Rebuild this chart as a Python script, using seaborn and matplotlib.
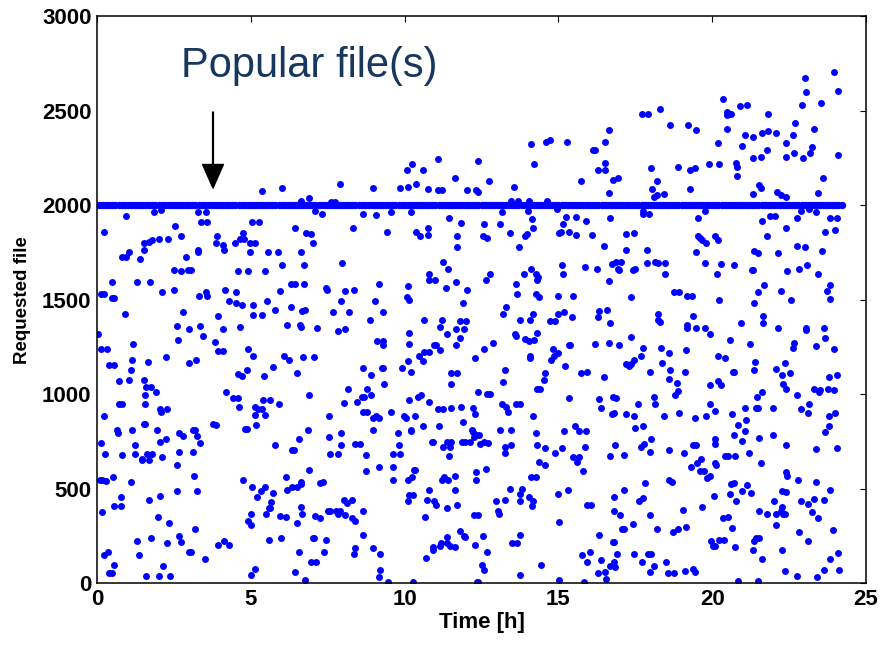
import pandas as pd
import matplotlib
matplotlib.use('Agg')
import matplotlib.pyplot as plt
import seaborn as sns

sns.set_style('white')
plt.rcParams['font.family'] = ['Liberation Sans', 'DejaVu Sans']
plt.rcParams['text.color'] = 'black'
plt.rcParams['axes.labelcolor'] = 'black'
plt.rcParams['xtick.color'] = 'black'
plt.rcParams['ytick.color'] = 'black'

# requests for the popular file (one every ~0.1 h, all at file 2000)
popular_file = 2000
popular_times = [
    0.0, 0.1, 0.2, 0.3, 0.4, 0.5, 0.6, 0.7, 0.8, 0.9,
    1.0, 1.1, 1.2, 1.3, 1.4, 1.5, 1.6, 1.7, 1.8, 1.9,
    2.0, 2.1, 2.2, 2.3, 2.4, 2.5, 2.6, 2.7, 2.8, 2.9,
    3.0, 3.1, 3.2, 3.3, 3.4, 3.5, 3.6, 3.7, 3.8, 3.9,
    4.0, 4.1, 4.2, 4.3, 4.4, 4.5, 4.6, 4.7, 4.8, 4.9,
    5.0, 5.1, 5.2, 5.3, 5.4, 5.5, 5.6, 5.7, 5.8, 5.9,
    6.0, 6.1, 6.2, 6.3, 6.4, 6.5, 6.6, 6.7, 6.8, 6.9,
    7.0, 7.1, 7.2, 7.3, 7.4, 7.5, 7.6, 7.7, 7.8, 7.9,
    8.0, 8.1, 8.2, 8.3, 8.4, 8.5, 8.6, 8.7, 8.8, 8.9,
    9.0, 9.1, 9.2, 9.3, 9.4, 9.5, 9.6, 9.7, 9.8, 9.9,
    10.0, 10.1, 10.2, 10.3, 10.4, 10.5, 10.6, 10.7, 10.8, 10.9,
    11.0, 11.1, 11.2, 11.3, 11.4, 11.5, 11.6, 11.7, 11.8, 11.9,
    12.0, 12.1, 12.2, 12.3, 12.4, 12.5, 12.6, 12.7, 12.8, 12.9,
    13.0, 13.1, 13.2, 13.3, 13.4, 13.5, 13.6, 13.7, 13.8, 13.9,
    14.0, 14.1, 14.2, 14.3, 14.4, 14.5, 14.6, 14.7, 14.8, 14.9,
    15.0, 15.1, 15.2, 15.3, 15.4, 15.5, 15.6, 15.7, 15.8, 15.9,
    16.0, 16.1, 16.2, 16.3, 16.4, 16.5, 16.6, 16.7, 16.8, 16.9,
    17.0, 17.1, 17.2, 17.3, 17.4, 17.5, 17.6, 17.7, 17.8, 17.9,
    18.0, 18.1, 18.2, 18.3, 18.4, 18.5, 18.6, 18.7, 18.8, 18.9,
    19.0, 19.1, 19.2, 19.3, 19.4, 19.5, 19.6, 19.7, 19.8, 19.9,
    20.0, 20.1, 20.2, 20.3, 20.4, 20.5, 20.6, 20.7, 20.8, 20.9,
    21.0, 21.1, 21.2, 21.3, 21.4, 21.5, 21.6, 21.7, 21.8, 21.9,
    22.0, 22.1, 22.2, 22.3, 22.4, 22.5, 22.6, 22.7, 22.8, 22.9,
    23.0, 23.1, 23.2, 23.3, 23.4, 23.5, 23.6, 23.7, 23.8, 23.9,
    24.0, 24.1, 24.2,
]

# other requests (time [h], file id)
requests_0_8h = [
    (5.37, 2074), (6.00, 2091), (6.62, 2023), (6.88, 2040), (7.89, 2111), (7.60, 2017), (7.72, 2017),
    (0.94, 1943), (1.86, 1961), (2.07, 1975), (3.28, 1961), (3.53, 1961), (3.37, 1911), (3.58, 1911),
    (0.22, 1860), (2.52, 1892), (2.73, 1834), (1.52, 1802), (1.52, 1763), (1.70, 1804), (1.79, 1814),
    (2.00, 1821), (2.32, 1821), (0.80, 1726), (0.94, 1726), (1.03, 1753), (1.41, 1714), (3.28, 1763),
    (3.28, 1753), (2.90, 1726), (2.49, 1656), (2.73, 1649), (2.95, 1656), (3.06, 1656), (3.90, 1834),
    (3.87, 1797), (4.08, 1790), (4.13, 1763), (4.50, 1797), (4.75, 1853), (4.64, 1821), (4.79, 1821),
    (4.96, 1802), (5.12, 1802), (5.04, 1911), (5.25, 1911), (4.96, 1751), (4.58, 1649), (4.92, 1649),
    (5.55, 1751), (5.88, 1751), (6.00, 1682), (5.45, 1649), (6.42, 1880), (6.80, 1853), (6.97, 1846),
    (7.02, 1797), (6.63, 1751), (6.74, 1682), (7.10, 1970), (7.30, 1955), (7.97, 1694),
    (0.50, 1592), (1.31, 1592), (1.73, 1592), (2.10, 1541), (2.49, 1553), (0.13, 1527), (0.24, 1527),
    (0.48, 1509), (0.55, 1509), (0.91, 1426), (3.32, 1521), (3.53, 1541), (3.58, 1521), (4.16, 1553),
    (2.78, 1432), (4.52, 1541), (4.29, 1490), (4.53, 1483), (4.72, 1470), (5.08, 1470), (5.52, 1490),
    (5.08, 1419), (5.37, 1419), (5.80, 1444), (5.96, 1546), (6.29, 1585), (6.44, 1585), (6.73, 1585),
    (6.30, 1463), (6.67, 1439), (6.77, 1444), (7.43, 1559), (7.49, 1553), (7.94, 1490), (7.68, 1432),
    (0.04, 1317), (2.61, 1361), (2.98, 1343), (3.36, 1361), (3.94, 1412), (3.46, 1305), (4.08, 1343),
    (4.66, 1356), (2.63, 1285), (3.84, 1278), (3.94, 1227), (4.11, 1227), (0.13, 1239), (0.31, 1239),
    (1.18, 1266), (1.14, 1183), (0.39, 1156), (0.55, 1156), (1.11, 1125), (1.65, 1169), (2.23, 1195),
    (2.98, 1163), (3.21, 1183), (4.92, 1239), (5.08, 1200), (4.57, 1105), (4.71, 1098), (4.87, 1125),
    (5.42, 1098), (5.71, 1144), (6.18, 1368), (6.60, 1368), (6.64, 1356), (7.14, 1349), (6.09, 1200),
    (6.23, 1183), (6.68, 1195), (7.05, 1195), (6.50, 1112), (7.84, 1336), (0.73, 1068), (1.05, 1073),
    (1.52, 1073), (1.59, 1035), (1.76, 1035),
    (1.91, 1012), (1.57, 996), (4.20, 1012), (0.70, 945), (0.82, 945), (1.57, 945), (2.06, 919),
    (2.07, 906), (2.28, 920), (0.24, 882), (4.42, 977), (4.59, 977), (4.63, 933), (5.12, 933),
    (5.23, 920), (5.35, 920), (5.40, 970), (5.63, 970), (5.92, 945), (5.12, 887), (5.46, 887),
    (5.17, 836), (6.89, 996), (8.02, 952), (7.55, 882),
    (1.52, 843), (1.56, 843), (0.64, 811), (0.68, 792), (1.14, 811), (1.94, 811), (2.06, 748),
    (2.23, 765), (2.68, 792), (2.78, 779), (3.13, 811), (3.17, 811), (3.24, 779), (3.36, 741),
    (3.78, 843), (3.87, 836), (4.82, 816), (4.88, 816),
    (0.14, 741), (0.26, 682), (0.81, 677), (1.22, 728), (1.22, 682), (1.45, 658), (1.47, 652),
    (1.64, 682), (1.78, 682), (1.69, 651), (2.10, 665), (2.65, 696), (3.11, 696), (2.61, 626),
    (5.80, 728), (6.35, 702), (6.39, 702), (6.55, 760), (6.85, 811), (6.89, 599), (7.55, 772),
    (7.56, 684), (7.84, 684), (7.93, 728), (7.93, 792),
    (0.09, 548), (0.17, 545), (0.28, 539), (0.53, 562), (1.11, 536), (3.15, 568), (3.24, 485),
    (2.61, 485), (1.69, 441), (2.06, 460), (0.77, 453), (0.55, 407), (0.77, 407), (0.17, 375),
    (1.98, 351), (2.35, 319), (4.75, 543), (5.05, 509), (5.20, 453), (5.34, 485), (5.47, 509),
    (5.71, 478), (5.67, 427), (5.60, 395), (5.63, 395), (5.50, 363), (4.91, 331), (5.00, 307),
    (4.99, 363), (6.13, 562), (6.17, 492), (6.34, 509), (6.50, 509), (6.62, 522), (6.64, 536),
    (6.62, 402), (6.67, 363), (5.96, 356), (6.13, 351), (6.51, 319), (7.26, 529), (7.33, 536),
    (7.10, 356), (7.26, 344), (7.50, 382), (7.57, 382), (7.76, 382), (7.90, 382), (7.84, 363),
    (8.02, 441),
    (3.20, 287), (2.65, 248), (2.74, 217), (2.27, 210), (1.77, 236), (1.31, 222), (1.35, 146),
    (3.00, 165), (3.04, 165), (3.50, 127), (3.94, 204), (4.13, 222), (4.29, 204), (0.22, 146),
    (0.35, 165), (0.55, 95), (0.39, 51), (0.48, 51), (1.60, 37), (2.03, 37), (2.16, 88), (2.36, 37),
    (5.59, 229), (5.97, 236), (7.02, 236), (7.05, 236), (7.43, 229), (6.56, 165), (7.39, 165),
    (6.95, 114), (7.11, 114), (5.12, 76), (5.00, 44), (6.44, 56), (6.76, 17),
]

requests_8_16h = [
    (8.98, 2091), (9.86, 2091), (10.07, 2188), (10.24, 2218), (10.12, 2097), (10.37, 2111), (10.58, 2188),
    (10.75, 2084), (11.09, 2245), (11.07, 2079), (11.22, 2079), (11.63, 2143), (12.04, 2079), (12.32, 2079),
    (12.39, 2070), (12.37, 2232), (12.75, 2130), (13.54, 2097), (13.46, 2023), (13.67, 2023), (14.04, 2023),
    (14.10, 2321), (14.22, 2218), (14.60, 2333), (14.73, 2347), (14.64, 2023), (15.28, 2333), (15.73, 2130),
    (16.12, 2289), (16.18, 2289),
    (8.65, 1955), (9.07, 1948), (9.57, 1962), (10.20, 1962), (11.45, 1931), (11.84, 1904), (8.31, 1880),
    (9.41, 1860), (10.36, 1860), (10.50, 1836), (10.75, 1880), (10.75, 1841), (11.70, 1836), (11.70, 1777),
    (12.59, 1899), (13.10, 1899), (13.18, 1962), (13.43, 1853), (12.55, 1836), (12.68, 1828), (13.72, 1777),
    (13.92, 1836), (13.98, 1848), (14.15, 1925), (14.16, 1880), (14.02, 1970), (14.94, 1982), (15.23, 1936),
    (15.57, 1936), (15.91, 1918), (15.14, 1899), (15.01, 1853), (15.07, 1860), (15.35, 1860), (15.57, 1841),
    (16.09, 1841),
    (11.25, 1701), (11.41, 1663), (10.79, 1636), (10.80, 1604), (11.00, 1604), (11.67, 1592), (11.33, 1560),
    (12.04, 1553), (11.90, 1483), (10.12, 1573), (10.07, 1514), (10.15, 1497), (9.17, 1580), (8.36, 1553),
    (8.06, 1546), (9.03, 1490), (8.19, 1432), (9.28, 1432), (8.86, 1394), (8.06, 1343), (12.63, 1604),
    (12.79, 1636), (13.63, 1585), (13.64, 1529), (13.89, 1636), (14.10, 1663), (14.26, 1636), (14.29, 1604),
    (14.34, 1617), (14.27, 1529), (14.37, 1514), (15.10, 1682), (15.15, 1636), (15.86, 1675), (14.97, 1521),
    (15.48, 1521), (13.30, 1463), (13.21, 1426), (13.76, 1394), (14.06, 1394), (14.17, 1426), (14.73, 1387),
    (14.89, 1387), (15.00, 1426), (15.18, 1432), (15.44, 1407),
    (10.62, 1394), (11.22, 1394), (11.15, 1356), (11.38, 1317), (11.79, 1387), (12.01, 1387), (11.67, 1343),
    (11.92, 1343), (11.79, 1299), (11.67, 1260), (10.15, 1324), (10.15, 1266), (9.11, 1280), (9.28, 1280),
    (9.28, 1260), (10.96, 1260), (11.02, 1260), (11.16, 1234), (10.62, 1222), (10.79, 1222), (10.46, 1202),
    (10.59, 1176), (10.12, 1176), (9.90, 1139), (10.20, 1119), (9.26, 1139), (9.31, 1139), (8.65, 1139),
    (8.90, 1100), (9.32, 1056), (11.50, 1112), (11.71, 1112), (11.51, 1056), (12.29, 1190), (12.59, 1241),
    (12.88, 1273), (13.59, 1317), (13.61, 1310), (13.92, 1292), (14.05, 1280), (14.22, 1285), (14.31, 1324),
    (14.06, 1202), (14.07, 1190), (14.81, 1241), (14.76, 1183), (14.87, 1202), (14.99, 1215), (15.33, 1260),
    (15.38, 1260), (15.20, 1151), (13.25, 1125), (13.19, 1066), (14.55, 1112), (14.52, 1073), (15.73, 1112),
    (15.92, 1119), (8.15, 1027), (8.77, 1027), (14.29, 1027), (14.40, 1027),
    (8.44, 957), (8.60, 984), (8.69, 984), (8.90, 996), (8.64, 906), (8.77, 906), (8.98, 875), (9.15, 875),
    (9.06, 882), (9.54, 906), (8.98, 811), (10.15, 970), (10.42, 982), (10.53, 996), (10.79, 957),
    (9.99, 882), (10.03, 875), (10.33, 882), (10.58, 830), (10.20, 811), (10.22, 804), (9.79, 792),
    (11.07, 919), (11.25, 919), (11.51, 926), (11.82, 933), (12.21, 926), (12.29, 894), (12.39, 1012),
    (12.68, 1003), (12.79, 1003), (11.13, 830), (11.89, 850), (12.18, 811), (12.23, 797), (12.27, 772),
    (12.33, 785), (12.43, 785), (10.89, 748), (10.93, 748), (11.25, 721), (11.38, 748), (11.50, 748),
    (11.48, 721), (11.45, 670), (11.88, 748), (11.95, 748), (12.11, 748), (12.45, 735), (12.59, 748),
    (12.72, 741), (13.10, 811), (13.18, 945), (13.28, 933), (13.35, 906), (13.62, 950), (13.76, 950),
    (13.47, 811), (13.26, 721), (13.26, 689), (13.47, 728), (14.18, 882), (14.27, 792), (14.31, 728),
    (14.57, 716), (14.37, 640), (14.55, 626), (14.89, 689), (15.10, 716), (15.19, 804), (15.53, 830),
    (15.68, 804), (15.91, 804), (15.35, 977), (15.86, 721), (15.47, 665), (15.68, 665), (15.61, 640),
    (15.79, 594),
    (8.40, 735), (8.54, 735), (8.73, 677), (8.73, 594), (9.15, 614), (9.61, 684), (9.86, 684), (9.83, 728),
    (9.61, 614), (9.61, 543), (10.12, 543), (10.24, 562), (10.31, 599), (10.35, 599), (11.20, 543),
    (11.28, 562), (11.40, 548), (11.63, 568), (12.33, 587), (12.33, 548), (12.63, 606), (10.78, 492),
    (11.63, 492), (10.15, 465), (10.28, 465), (10.11, 434), (10.71, 441), (10.96, 434), (11.01, 414),
    (11.38, 395), (11.71, 414), (10.66, 351), (12.26, 358), (12.37, 358), (13.43, 497), (13.76, 472),
    (13.80, 497), (13.76, 434), (14.04, 453), (14.17, 434), (14.14, 407), (12.96, 434), (13.25, 439),
    (13.04, 382), (13.06, 363), (14.10, 562), (14.26, 562), (14.99, 472), (15.32, 492), (15.02, 324),
    (15.93, 414), (16.07, 414), (8.11, 426), (8.28, 441), (8.06, 358), (8.28, 344), (8.40, 326),
    (8.65, 382),
    (8.65, 255), (8.40, 185), (8.36, 153), (8.98, 185), (9.19, 153), (9.19, 68), (9.15, 31), (9.45, 5),
    (10.28, 5), (10.70, 134), (10.91, 192), (10.91, 173), (11.15, 197), (11.17, 210), (11.37, 210),
    (11.38, 243), (11.46, 197), (11.63, 192), (11.79, 275), (11.92, 248), (11.96, 243), (12.29, 204),
    (12.55, 248), (12.68, 165), (12.50, 95), (12.59, 68), (12.34, 7), (12.39, 7), (13.50, 210),
    (13.64, 210), (13.76, 255), (13.76, 44), (14.43, 95), (15.02, 17), (15.78, 146), (16.03, 165),
    (15.92, 114), (15.82, 5),
]

requests_16_24h = [
    (16.28, 2188), (16.50, 2188), (16.50, 2225), (16.50, 2335), (16.63, 2398), (16.63, 2065), (16.77, 2135),
    (16.92, 2143), (17.70, 2481), (17.90, 2481), (18.29, 2506), (18.00, 2194), (18.21, 2130), (18.05, 2084),
    (18.11, 2044), (18.19, 2054), (18.42, 2060), (18.63, 2423), (18.89, 2201), (19.22, 2423), (19.48, 2398),
    (19.26, 2187), (19.43, 2194), (19.26, 2084), (19.89, 2218), (20.18, 2328), (20.22, 2218), (20.34, 2564),
    (20.47, 2494), (20.47, 2476), (20.60, 2481), (20.47, 2404), (20.76, 2225), (20.81, 2201), (20.81, 2155),
    (20.89, 2525), (21.14, 2532), (20.98, 2315), (21.06, 2372), (21.32, 2360), (21.32, 2250), (21.57, 2257),
    (21.61, 2379), (21.82, 2391), (21.82, 2481), (21.78, 2294), (22.08, 2379), (21.32, 2060), (21.52, 2104),
    (21.57, 2091), (22.11, 2067), (22.24, 2054), (22.40, 2042), (22.41, 2328), (22.41, 2257), (22.62, 2372),
    (22.66, 2277), (22.70, 2435), (22.91, 2532), (22.95, 2250), (23.04, 2596), (23.00, 2674), (23.16, 2277),
    (23.25, 2308), (23.29, 2404), (23.53, 2538), (23.61, 2143), (23.42, 2065), (23.95, 2705), (24.08, 2603),
    (24.08, 2264),
    (16.66, 1931), (17.74, 1955), (17.93, 1955), (17.76, 1968), (19.75, 1968), (19.55, 1931), (21.61, 1917),
    (21.89, 1943), (22.03, 1943), (22.38, 1880), (22.74, 1931), (22.87, 1968), (23.14, 1982), (23.38, 1962),
    (23.83, 1931), (24.05, 1931), (23.99, 1867), (23.67, 1860), (17.21, 1848), (17.46, 1853), (16.49, 1784),
    (17.20, 1765), (17.87, 1765), (19.53, 1836), (19.61, 1827), (19.68, 1814), (19.80, 1797), (20.09, 1836),
    (20.18, 1814), (19.48, 1753), (21.77, 1836), (21.35, 1758), (21.48, 1746), (22.12, 1746), (22.74, 1784),
    (23.00, 1777), (23.58, 1758),
    (16.25, 1663), (16.73, 1687), (16.86, 1700), (17.04, 1700), (16.92, 1663), (16.96, 1656), (17.41, 1656),
    (17.49, 1663), (17.87, 1694), (18.14, 1700), (18.22, 1694), (18.47, 1694), (18.47, 1636), (16.63, 1597),
    (19.77, 1694), (20.27, 1687), (20.14, 1636), (20.72, 1682), (21.28, 1656), (21.33, 1656), (22.44, 1649),
    (22.82, 1663), (23.07, 1682), (23.45, 1636), (23.83, 1578), (23.74, 1546), (23.83, 1502), (21.69, 1578),
    (21.48, 1541), (21.35, 1483), (22.24, 1546), (22.57, 1497), (18.76, 1541), (18.93, 1541), (19.17, 1521),
    (19.35, 1521), (20.22, 1497), (17.37, 1514),
    (16.32, 1439), (16.57, 1444), (16.28, 1407), (16.66, 1375), (18.22, 1426), (18.25, 1394), (18.29, 1380),
    (19.36, 1412), (19.19, 1368), (19.18, 1349), (19.48, 1349), (19.77, 1349), (19.93, 1317), (21.65, 1412),
    (21.65, 1375), (20.94, 1375), (22.12, 1349), (23.03, 1349), (23.04, 1338), (23.62, 1349), (23.67, 1297),
    (16.19, 1266), (16.63, 1273), (16.96, 1260), (17.37, 1304), (17.74, 1246), (18.34, 1246), (18.59, 1215),
    (19.13, 1234), (20.56, 1285), (21.23, 1266), (22.64, 1273), (22.61, 1246), (23.36, 1253), (23.96, 1239),
    (17.68, 1202), (17.46, 1183), (17.20, 1158), (17.28, 1151), (17.37, 1158), (18.37, 1163), (17.96, 1119),
    (18.63, 1125), (19.10, 1119), (18.59, 1081), (18.85, 1061), (20.17, 1202), (20.40, 1190), (20.68, 1119),
    (20.72, 1119), (21.38, 1169), (21.35, 1125), (22.06, 1132), (22.37, 1163), (22.28, 1100), (22.53, 1112),
    (22.31, 1056), (22.41, 1029), (16.49, 1093), (23.79, 1093), (24.05, 1100), (19.93, 1049), (20.17, 1068),
    (20.27, 1049), (23.31, 1029), (23.76, 1029), (23.94, 1022), (23.51, 1022),
    (18.80, 996), (18.90, 1016), (16.32, 972), (16.37, 926), (16.77, 984), (16.86, 977), (16.75, 894),
    (16.79, 901), (18.09, 984), (18.14, 950), (17.58, 945), (17.20, 894), (17.45, 882), (17.50, 823),
    (17.74, 830), (18.42, 882), (18.93, 901), (19.43, 875), (19.81, 882), (19.93, 945), (20.10, 913),
    (20.65, 894), (20.85, 836), (21.07, 926), (21.10, 862), (21.06, 804), (20.69, 786), (20.98, 753),
    (21.45, 984), (21.61, 1009), (21.43, 926), (21.49, 926), (21.98, 926), (22.75, 996), (22.87, 920),
    (23.12, 901), (23.13, 945), (23.48, 1009), (23.78, 882), (24.00, 901), (23.79, 830), (23.66, 799),
    (21.98, 786), (21.53, 767), (22.40, 728), (23.36, 709), (24.04, 716),
    (16.83, 728), (16.66, 670), (17.12, 677), (17.67, 721), (17.79, 735), (18.00, 760), (17.96, 696),
    (18.59, 702), (19.09, 689), (19.38, 728), (19.48, 728), (19.30, 614), (19.50, 638), (19.64, 658),
    (19.59, 594), (19.73, 594), (19.83, 555), (19.92, 568), (20.10, 760), (20.10, 735), (20.10, 638),
    (20.12, 626), (20.41, 670), (20.52, 670), (20.73, 670), (21.19, 689), (21.57, 638),
    (17.80, 531), (18.59, 543), (18.68, 536), (17.12, 492), (16.82, 453), (17.63, 434), (17.74, 448),
    (16.82, 382), (17.00, 358), (17.96, 358), (17.42, 312), (17.06, 287), (17.12, 287), (16.32, 255),
    (16.76, 217), (16.79, 217), (16.37, 120), (16.79, 114), (16.66, 88), (16.83, 83), (16.91, 153),
    (16.29, 51), (16.50, 56), (16.54, 24), (17.45, 153), (17.71, 114), (17.92, 153), (18.00, 153),
    (18.09, 88), (17.96, 56), (18.51, 114), (18.55, 51), (18.76, 51), (18.21, 287), (18.72, 268),
    (18.89, 287), (19.14, 299), (19.05, 389), (19.68, 402), (20.05, 460), (19.10, 63), (19.37, 75),
    (19.44, 56), (20.56, 472), (20.76, 434), (20.62, 524), (20.72, 531), (20.98, 485), (21.14, 517),
    (21.27, 478), (20.35, 345), (20.52, 351), (20.65, 292), (19.97, 224), (20.02, 197), (20.10, 197),
    (20.22, 229), (20.39, 229), (20.73, 190), (21.36, 224), (21.43, 236), (21.52, 236), (21.32, 173),
    (21.61, 127), (21.52, 382), (21.78, 363), (21.99, 434), (22.06, 363), (22.23, 382), (22.27, 402),
    (22.31, 363), (22.37, 363), (22.08, 307), (22.27, 485), (22.41, 480), (22.40, 587), (22.44, 568),
    (22.78, 543), (22.87, 434), (23.12, 421), (23.25, 377), (23.45, 344), (23.32, 446), (23.62, 441),
    (23.36, 536), (23.83, 492), (22.82, 268), (23.12, 224), (23.92, 280), (22.27, 173), (22.36, 63),
    (22.74, 37), (23.41, 31), (23.62, 68), (23.83, 127), (24.08, 158), (24.12, 68), (20.85, 12),
    (21.49, 12),
]

df = pd.DataFrame(requests_0_8h + requests_8_16h + requests_16_24h, columns=['time', 'file'])
df_pop = pd.DataFrame({'time': popular_times, 'file': [popular_file] * len(popular_times)})

fig, ax = plt.subplots(figsize=(8.82, 6.45), dpi=100)
fig.subplots_adjust(left=0.110, right=0.982, top=0.975, bottom=0.096)

sns.scatterplot(x='time', y='file', data=df, color='#0000ff', s=25, linewidth=0, ax=ax)
sns.scatterplot(x='time', y='file', data=df_pop, color='#0000ff', s=28, linewidth=0, ax=ax)

ax.set_xlim(0, 25)
ax.set_ylim(0, 3000)
ax.set_xticks([0, 5, 10, 15, 20, 25])
ax.set_yticks([0, 500, 1000, 1500, 2000, 2500, 3000])
ax.tick_params(direction='in', top=True, right=True, length=4.5, width=0.8,
               labelsize=16, pad=4, colors='black')
for lbl in ax.get_xticklabels() + ax.get_yticklabels():
    lbl.set_fontweight('bold')
for sp in ax.spines.values():
    sp.set_color('black')
    sp.set_linewidth(1.1)

ax.set_xlabel('Time [h]', fontsize=16, fontweight='bold', labelpad=2, color='black')
ax.set_ylabel('Requested file', fontsize=13.5, fontweight='bold', labelpad=8, color='black')

ax.text(6.9, 2735, 'Popular file(s)', fontsize=30, color='#17375e', ha='center', va='center')
ax.annotate('', xy=(3.77, 2090), xytext=(3.77, 2492),
            arrowprops=dict(facecolor='black', edgecolor='black', width=0.6,
                            headwidth=15, headlength=17, shrink=0))

fig.savefig('out.png', dpi=100)
